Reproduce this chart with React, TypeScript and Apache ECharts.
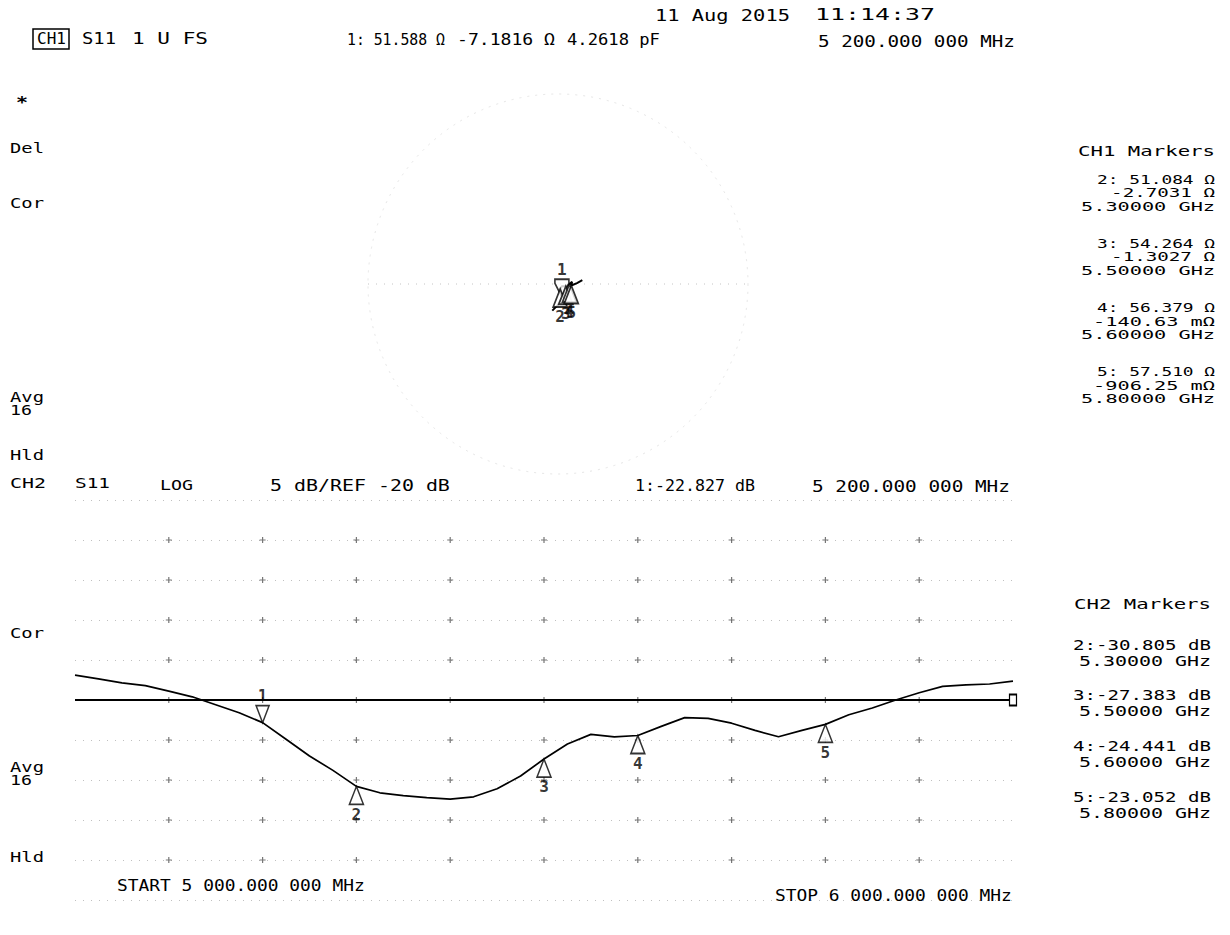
import React, { useEffect, useRef } from "react";
import * as echarts from "echarts";

// ---------- DATA ----------
const traceFreqMHz = [
  5000, 5025, 5050, 5075, 5100, 5125, 5150, 5175, 5200, 5225,
  5250, 5275, 5300, 5325, 5350, 5375, 5400, 5425, 5450, 5475,
  5500, 5525, 5550, 5575, 5600, 5625, 5650, 5675, 5700, 5725,
  5750, 5775, 5800, 5825, 5850, 5875, 5900, 5925, 5950, 5975, 6000,
];
const traceDb = [
  -16.9, -17.35, -17.85, -18.2, -18.9, -19.6, -20.6, -21.6, -22.83, -24.9,
  -27.0, -28.8, -30.8, -31.6, -31.95, -32.2, -32.4, -32.1, -31.1, -29.5,
  -27.38, -25.5, -24.3, -24.6, -24.44, -23.3, -22.2, -22.3, -22.9, -23.8,
  -24.6, -23.8, -23.05, -21.85, -21.0, -20.0, -19.1, -18.3, -18.1, -18.0, -17.65,
];
const markerIds = [1, 2, 3, 4, 5];
const markerFreqMHz = [5200, 5300, 5500, 5600, 5800];
const markerDb = [-22.827, -30.805, -27.383, -24.441, -23.052];
const markerR = [51.588, 51.084, 54.264, 56.379, 57.51];
const markerXOhm = [-7.1816, -2.7031, -1.3027, -0.14063, -0.90625];
const refLevelDb = -20;
const startMHz = 5000;
const stopMHz = 6000;
const xTicksMHz = [5100, 5200, 5300, 5400, 5500, 5600, 5700, 5800, 5900];
const yTicksDb = [-40, -35, -30, -25, -20, -15, -10, -5, 0];
// Smith chart trace (reflection coefficient, estimated)
const smithRe = [-0.03, 0.0, 0.0205, 0.0114, 0.02, 0.041, 0.06, 0.074, 0.0699, 0.1, 0.128];
const smithIm = [-0.14, -0.11, -0.0692, -0.0264, -0.012, -0.012, -0.0012, 0.012, -0.0078, 0.005, 0.02];

const ch1MarkerLines = [
  ["2: 51.084 Ω", "-2.7031 Ω", "5.30000 GHz"],
  ["3: 54.264 Ω", "-1.3027 Ω", "5.50000 GHz"],
  ["4: 56.379 Ω", "-140.63 mΩ", "5.60000 GHz"],
  ["5: 57.510 Ω", "-906.25 mΩ", "5.80000 GHz"],
];
const ch2MarkerLines = [
  ["2:-30.805 dB", "5.30000 GHz"],
  ["3:-27.383 dB", "5.50000 GHz"],
  ["4:-24.441 dB", "5.60000 GHz"],
  ["5:-23.052 dB", "5.80000 GHz"],
];

// ---------- LAYOUT ----------
const FONT = '"DejaVu Sans Mono", "Liberation Mono", monospace';
const PL = { left: 75, top: 500, width: 938, height: 400 };
const SM = { cx: 558, cy: 284, r: 190 };

function gamma(r: number, x: number): [number, number] {
  const z0 = 50;
  const a = r - z0, c = r + z0;
  const den = c * c + x * x;
  return [(a * c + x * x) / den, (x * c - a * x) / den];
}

function txt(text: string, x: number, y: number, w?: number, opts: any = {}) {
  const fs = opts.fs ?? 15;
  const natural = text.length * 0.602 * fs;
  const sx = w ? w / natural : 1;
  const align = opts.align ?? "left";
  return {
    type: "text",
    x,
    y,
    scaleX: sx,
    z: 100,
    style: {
      text,
      fontFamily: FONT,
      fontSize: fs,
      fontWeight: opts.bold ? "bold" : "normal",
      fill: "#000",
      align,
      verticalAlign: "middle",
      textAlign: align,
      textVerticalAlign: "middle",
    },
  };
}

function buildOption() {
  const graphics: any[] = [];
  // header
  graphics.push(txt("11 Aug 2015", 655, 15, 135, { fs: 16 }));
  graphics.push(txt("11:14:37", 815, 15, 120, { fs: 16 }));
  graphics.push(txt("CH1", 37, 39, 29));
  graphics.push({
    type: "rect",
    shape: { x: 33, y: 29, width: 36, height: 20 },
    style: { fill: "none", stroke: "#000", lineWidth: 1.5 },
    z: 100,
  });
  graphics.push(txt("S11", 82, 39, 34));
  graphics.push(txt("1 U FS", 132, 39, 76));
  graphics.push(txt("1: 51.588 Ω", 347, 40, 98));
  graphics.push(txt("-7.1816 Ω", 457, 40, 98));
  graphics.push(txt("4.2618 pF", 567, 40, 93));
  graphics.push(txt("5 200.000 000 MHz", 818, 42, 197));
  // left annotations (CH1)
  graphics.push(txt("*", 16, 103, 12, { bold: true }));
  graphics.push(txt("Del", 10, 148, 34, { fs: 14 }));
  graphics.push(txt("Cor", 10, 203, 34, { fs: 14 }));
  graphics.push(txt("Avg", 10, 397, 34, { fs: 14 }));
  graphics.push(txt("16", 10, 410, 22, { fs: 14 }));
  graphics.push(txt("Hld", 10, 455, 34, { fs: 14 }));
  // CH1 markers block
  const RX = 1215;
  graphics.push(txt("CH1 Markers", RX, 151, 137, { align: "right", fs: 14 }));
  const ch1Y = [180, 244, 308, 372];
  ch1MarkerLines.forEach((lines, i) => {
    const y0 = ch1Y[i];
    const widths = [118, lines[1].includes("m") ? 122 : 104, 134];
    lines.forEach((l, j) =>
      graphics.push(txt(l, RX, y0 + j * 13, widths[j], { align: "right", fs: 13 }))
    );
  });
  // CH2 header
  graphics.push(txt("CH2", 10, 483, 36, { fs: 14 }));
  graphics.push(txt("S11", 75, 483, 35, { fs: 14 }));
  graphics.push(txt("LOG", 160, 485, 33, { fs: 14 }));
  graphics.push(txt("5 dB/REF -20 dB", 270, 486, 180));
  graphics.push(txt("1:-22.827 dB", 635, 486, 120));
  graphics.push(txt("5 200.000 000 MHz", 812, 487, 198));
  // CH2 left
  graphics.push(txt("Cor", 10, 633, 34, { fs: 14 }));
  graphics.push(txt("Avg", 10, 767, 34, { fs: 14 }));
  graphics.push(txt("16", 10, 780, 22, { fs: 14 }));
  graphics.push(txt("Hld", 10, 857, 34, { fs: 14 }));
  // CH2 markers block
  graphics.push(txt("CH2 Markers", RX - 4, 604, 137, { align: "right", fs: 14 }));
  const ch2Y = [645, 695, 746, 797];
  ch2MarkerLines.forEach((lines, i) => {
    graphics.push(txt(lines[0], RX - 4, ch2Y[i], 138, { align: "right", fs: 14 }));
    graphics.push(txt(lines[1], RX - 4, ch2Y[i] + 16, 132, { align: "right", fs: 14 }));
  });
  // start / stop
  graphics.push(txt("START 5 000.000 000 MHz", 117, 886, 248));
  graphics.push(txt("STOP 6 000.000 000 MHz", 775, 896, 237));

  // Smith graticule (faint)
  graphics.push({
    type: "circle",
    shape: { cx: SM.cx, cy: SM.cy, r: SM.r },
    style: { fill: "none", stroke: "#e6e6e6", lineWidth: 1, lineDash: [2, 6] },
    z: 1,
  });
  graphics.push({
    type: "line",
    shape: { x1: SM.cx - SM.r, y1: SM.cy, x2: SM.cx + SM.r, y2: SM.cy },
    style: { stroke: "#c4c4c4", lineWidth: 1, lineDash: [1, 7] },
    z: 1,
  });

  const crosses: number[][] = [];
  xTicksMHz.forEach((f) => yTicksDb.forEach((d) => crosses.push([f, d])));

  const tracePts = traceFreqMHz.map((f, i) => [f, traceDb[i]]);
  const mPts = markerFreqMHz.map((f, i) => [f, markerDb[i]]);
  const smithPts = smithRe.map((r, i) => [r, smithIm[i]]);
  const smithMarkers = markerR.map((r, i) => gamma(r, markerXOhm[i]));

  const labelStyle = { fontFamily: FONT, fontSize: 16, fontWeight: "bold", color: "#000" };
  const downTri = "path://M0,0L10,0L5,13Z";
  const upTri = "path://M5,0L10,13L0,13Z";

  return {
    animation: false,
    backgroundColor: "#fff",
    grid: [
      { left: PL.left, top: PL.top, width: PL.width, height: PL.height },
      { left: SM.cx - SM.r, top: SM.cy - SM.r, width: SM.r * 2, height: SM.r * 2 },
    ],
    xAxis: [
      {
        type: "value", gridIndex: 0, min: startMHz, max: stopMHz, interval: 100,
        axisLine: { show: false }, axisTick: { show: false }, axisLabel: { show: false },
        splitLine: { show: false },
      },
      { type: "value", gridIndex: 1, min: -1, max: 1, show: false },
    ],
    yAxis: [
      {
        type: "value", gridIndex: 0, min: -45, max: 5, interval: 5,
        axisLine: { show: false }, axisTick: { show: false }, axisLabel: { show: false },
        splitLine: { show: true, lineStyle: { color: "#c0c0c0", width: 1, type: [1, 7] } },
      },
      { type: "value", gridIndex: 1, min: -1, max: 1, show: false },
    ],
    graphic: graphics,
    series: [
      {
        type: "scatter", xAxisIndex: 0, yAxisIndex: 0, data: crosses,
        symbol: "path://M4,0H6V4H10V6H6V10H4V6H0V4H4Z", symbolSize: 6,
        itemStyle: { color: "#555" }, silent: true, z: 2,
      },
      {
        type: "line", xAxisIndex: 0, yAxisIndex: 0,
        data: [
          { value: [startMHz, refLevelDb], symbol: "none" },
          {
            value: [stopMHz, refLevelDb], symbol: "rect", symbolSize: [7, 11],
            itemStyle: { color: "#fff", borderColor: "#000", borderWidth: 1.5 },
          },
        ],
        showSymbol: true, symbol: "none",
        lineStyle: { color: "#000", width: 2 }, z: 5,
      },
      {
        type: "line", xAxisIndex: 0, yAxisIndex: 0, data: tracePts,
        showSymbol: false, symbol: "none",
        lineStyle: { color: "#000", width: 1.7 }, z: 6,
      },
      {
        type: "scatter", xAxisIndex: 0, yAxisIndex: 0,
        data: [{ value: mPts[0], name: String(markerIds[0]) }],
        symbol: downTri, symbolSize: [13, 17], symbolOffset: [0, "-50%"],
        itemStyle: { color: "#fff", borderColor: "#000", borderWidth: 1.6 },
        label: { show: true, position: "top", distance: 1, formatter: "{b}", ...labelStyle },
        z: 8,
      },
      {
        type: "scatter", xAxisIndex: 0, yAxisIndex: 0,
        data: mPts.slice(1).map((p, i) => ({ value: p, name: String(markerIds[i + 1]) })),
        symbol: upTri, symbolSize: [14, 18], symbolOffset: [0, "50%"],
        itemStyle: { color: "#fff", borderColor: "#000", borderWidth: 1.6 },
        label: { show: true, position: "bottom", distance: 1, formatter: "{b}", ...labelStyle },
        z: 8,
      },
      {
        type: "line", xAxisIndex: 1, yAxisIndex: 1, data: smithPts,
        showSymbol: false, symbol: "none",
        lineStyle: { color: "#000", width: 2 }, z: 6,
      },
      {
        type: "scatter", xAxisIndex: 1, yAxisIndex: 1,
        data: [{ value: smithMarkers[0], name: String(markerIds[0]) }],
        symbol: "path://M0,0L10,0L10,3L5,13L0,3Z", symbolSize: [14, 18], symbolOffset: [0, "-50%"],
        itemStyle: { color: "#fff", borderColor: "#000", borderWidth: 1.8 },
        label: { show: true, position: "top", distance: 1, formatter: "{b}", ...labelStyle },
        z: 8,
      },
      {
        type: "scatter", xAxisIndex: 1, yAxisIndex: 1,
        data: smithMarkers.slice(1).map((p, i) => ({ value: p, name: String(markerIds[i + 1]) })),
        symbol: upTri, symbolSize: [14, 18], symbolOffset: [0, "50%"],
        itemStyle: { color: "#fff", borderColor: "#000", borderWidth: 1.8 },
        label: { show: true, position: "bottom", distance: 0, formatter: "{b}", ...labelStyle },
        z: 8,
      },
    ],
  };
}

export default function App() {
  const ref = useRef<HTMLDivElement>(null);
  useEffect(() => {
    if (!ref.current) return;
    const chart = echarts.init(ref.current, null, { renderer: "svg" });
    chart.setOption(buildOption() as any);
    return () => chart.dispose();
  }, []);
  return (
    <div
      ref={ref}
      style={{ position: "fixed", left: 0, top: 0, width: 1230, height: 935, background: "#fff" }}
    />
  );
}
